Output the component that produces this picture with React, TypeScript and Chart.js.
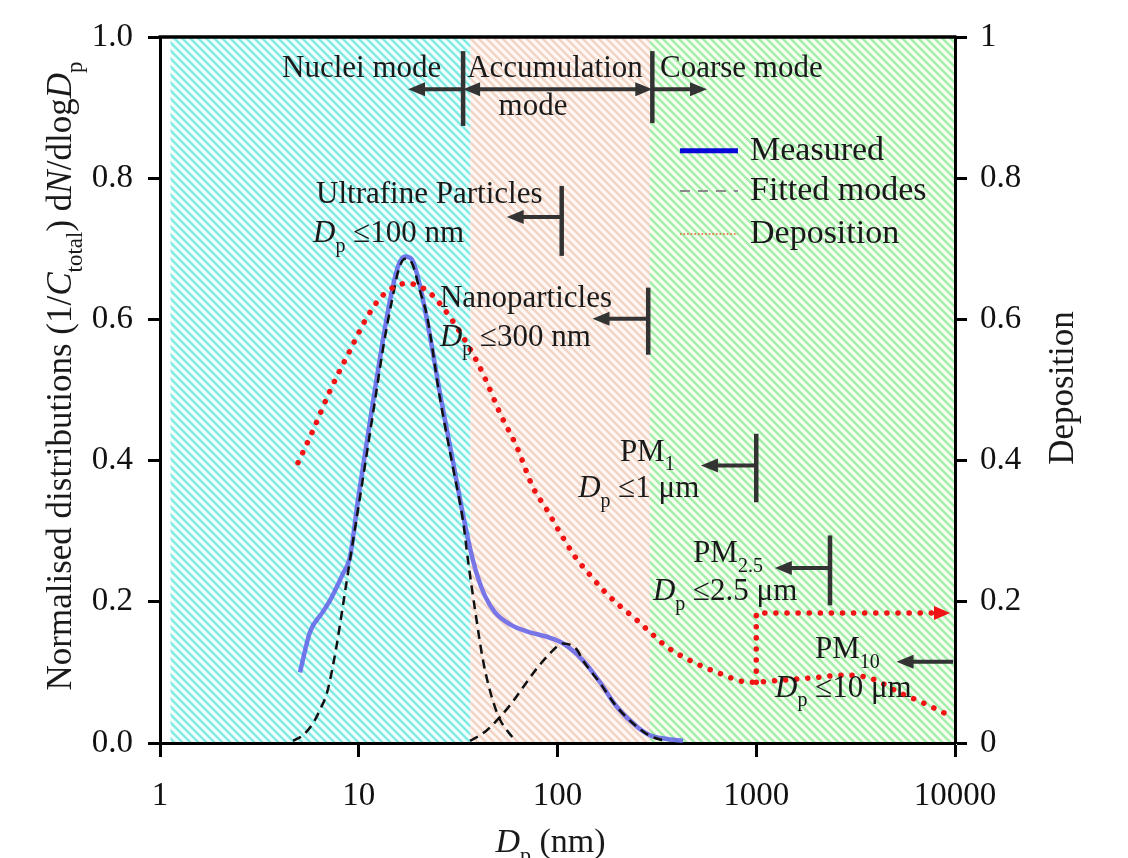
import React, { useEffect, useRef } from "react";
import { Chart, registerables } from "chart.js";

Chart.register(...registerables);

const SERIF = '"Liberation Serif", "Times New Roman", Times, serif';

// ---- ticks ----
const xTickValues = [1, 10, 100, 1000, 10000];
const yTickValues = [0, 0.2, 0.4, 0.6, 0.8, 1];

// ---- Measured distribution (Dp in nm, normalised dN/dlogDp) ----
const measuredDp = [5.06, 5.68, 6.53, 7.17, 8.33, 9.03, 9.91, 10.88, 11.93, 13.09, 14.36, 15.76, 17.09, 18.5, 20.3, 22.8, 25.6, 29.5, 33.1, 36.3, 39.4, 43.2, 48.5, 57.7, 70.2, 91.7, 106.6, 134.3, 163.6, 199, 251, 292, 348, 428];
const measuredN = [0.100, 0.157, 0.184, 0.202, 0.240, 0.263, 0.344, 0.419, 0.492, 0.563, 0.627, 0.675, 0.689, 0.685, 0.648, 0.577, 0.496, 0.405, 0.330, 0.276, 0.238, 0.208, 0.185, 0.168, 0.158, 0.149, 0.141, 0.117, 0.086, 0.051, 0.023, 0.011, 0.006, 0.003];

// ---- Fitted nuclei mode ----
const nucleiDp = [4.67, 5.24, 5.89, 6.38, 6.92, 7.34, 7.77, 8.33, 9.03, 9.91, 10.88, 12.07, 13.4, 14.7, 15.94, 17.09, 18.5, 20.3, 22.05, 25.6, 29.8, 33.45, 35.45, 38.5, 42.2, 46.8, 51.4, 56.4, 61.1];
const nucleiN = [0.003, 0.011, 0.028, 0.047, 0.071, 0.103, 0.141, 0.195, 0.259, 0.330, 0.403, 0.485, 0.567, 0.627, 0.672, 0.686, 0.680, 0.641, 0.605, 0.489, 0.390, 0.315, 0.259, 0.188, 0.117, 0.064, 0.033, 0.016, 0.004];

// ---- Fitted accumulation mode ----
const accumDp = [36.3, 43.2, 51.4, 59.0, 67.1, 78.9, 91.7, 106.6, 125.4, 134.3, 163.6, 199, 251, 292, 348];
const accumN = [0.003, 0.016, 0.037, 0.057, 0.079, 0.106, 0.127, 0.141, 0.132, 0.117, 0.085, 0.051, 0.023, 0.010, 0.003];

// ---- Deposition (right axis) ----
const depositionDp = [4.95, 5.89, 7.17, 9.03, 11.0, 13.2, 17.5, 22.0, 26.5, 35.0, 42.2, 51.4, 62.5, 75.3, 88.6, 103, 122.5, 145.7, 173.4, 206.3, 251, 292, 355.6, 464, 635, 930, 1363, 2022, 2733, 3735, 5288, 6902, 8908];
const depositionValue = [0.397, 0.443, 0.499, 0.556, 0.603, 0.634, 0.651, 0.641, 0.617, 0.566, 0.523, 0.467, 0.419, 0.362, 0.330, 0.298, 0.264, 0.238, 0.214, 0.194, 0.174, 0.157, 0.136, 0.117, 0.100, 0.086, 0.089, 0.093, 0.096, 0.092, 0.071, 0.057, 0.042];
const depositionStepDp = [1000, 1000, 9000];
const depositionStepValue = [0.086, 0.184, 0.184];
const depositionArrowTip = { dp: 9440, value: 0.184 };

// ---- background regions (nuclei / accumulation / coarse) ----
const regionEdges = [1.13, 36.5, 292, 10000];
const regionColors = [
  { bg: "#f1fdfc", stripe: "#80ebe3" },
  { bg: "#fef8f5", stripe: "#f2d3c5" },
  { bg: "#f8fdf1", stripe: "#a3efa9" },
];

// ---- annotation labels ----
type Run = { t: string; it?: boolean; sub?: boolean };
const Dp: Run[] = [{ t: "D", it: true }, { t: "p", sub: true }];
const labelTexts: { dp: number; v: number; align: "left" | "center"; runs: Run[] }[] = [
  { dp: 4.11, v: 0.943, align: "left", runs: [{ t: "Nuclei mode" }] },
  { dp: 97.1, v: 0.943, align: "center", runs: [{ t: "Accumulation" }] },
  { dp: 75.3, v: 0.89, align: "center", runs: [{ t: "mode" }] },
  { dp: 328, v: 0.943, align: "left", runs: [{ t: "Coarse mode" }] },
  { dp: 6.1, v: 0.765, align: "left", runs: [{ t: "Ultrafine Particles" }] },
  { dp: 5.89, v: 0.709, align: "left", runs: [...Dp, { t: " \u2264100 nm" }] },
  { dp: 25.6, v: 0.617, align: "left", runs: [{ t: "Nanoparticles" }] },
  { dp: 25.6, v: 0.563, align: "left", runs: [...Dp, { t: " \u2264300 nm" }] },
  { dp: 206, v: 0.4, align: "left", runs: [{ t: "PM" }, { t: "1", sub: true }] },
  { dp: 127, v: 0.348, align: "left", runs: [...Dp, { t: " \u22641 \u03bcm" }] },
  { dp: 481, v: 0.256, align: "left", runs: [{ t: "PM" }, { t: "2.5", sub: true }] },
  { dp: 302, v: 0.202, align: "left", runs: [...Dp, { t: " \u22642.5 \u03bcm" }] },
  { dp: 1975, v: 0.12, align: "left", runs: [{ t: "PM" }, { t: "10", sub: true }] },
  { dp: 1243, v: 0.065, align: "left", runs: [...Dp, { t: " \u226410 \u03bcm" }] },
];
const boundaryBars = [
  { dp: 33.5, v1: 0.874, v2: 0.98 },
  { dp: 300, v1: 0.878, v2: 0.98 },
  { dp: 105, v1: 0.69, v2: 0.789 },
  { dp: 286, v1: 0.55, v2: 0.645 },
  { dp: 1000, v1: 0.341, v2: 0.438 },
  { dp: 2350, v1: 0.195, v2: 0.294 },
];
const arrowSpecs = [
  { from: 33.5, to: 17.7, v: 0.926, both: false },
  { from: 33.5, to: 300, v: 0.926, both: true },
  { from: 300, to: 565, v: 0.926, both: false },
  { from: 105, to: 55.5, v: 0.745, both: false },
  { from: 286, to: 150, v: 0.601, both: false },
  { from: 1000, to: 527, v: 0.393, both: false },
  { from: 2350, to: 1240, v: 0.248, both: false },
  { from: 9800, to: 5080, v: 0.115, both: false },
];
const legendLabels = ["Measured", "Fitted modes", "Deposition"];
const legendRowsV = [0.839, 0.782, 0.721];
const legendSpan = { from: 413, to: 809, text: 930 };

const toPoints = (xs: number[], ys: number[]) => xs.map((x, i) => ({ x, y: ys[i] }));

function runFont(r: Run, size: number) {
  const s = r.sub ? Math.round(size * 0.66) : size;
  return `${r.it ? "italic " : ""}${s}px ${SERIF}`;
}

function drawRich(ctx: CanvasRenderingContext2D, runs: Run[], x: number, y: number, size: number, align: string, color = "#1a1a1a") {
  ctx.save();
  ctx.fillStyle = color;
  ctx.textAlign = "left";
  ctx.textBaseline = "alphabetic";
  let w = 0;
  const ws = runs.map((r) => {
    ctx.font = runFont(r, size);
    const m = ctx.measureText(r.t).width;
    w += m;
    return m;
  });
  let cx = align === "left" ? x : align === "center" ? x - w / 2 : x - w;
  runs.forEach((r, i) => {
    ctx.font = runFont(r, size);
    ctx.fillText(r.t, cx, y + (r.sub ? size * 0.3 : 0));
    cx += ws[i];
  });
  ctx.restore();
}

function arrowHead(ctx: CanvasRenderingContext2D, tx: number, ty: number, dir: number, len: number, half: number) {
  ctx.beginPath();
  ctx.moveTo(tx, ty);
  ctx.lineTo(tx - dir * len, ty - half);
  ctx.lineTo(tx - dir * len, ty + half);
  ctx.closePath();
  ctx.fill();
}

function makePattern(ctx: CanvasRenderingContext2D, bg: string, stripe: string) {
  const c = document.createElement("canvas");
  c.width = 8;
  c.height = 8;
  const g = c.getContext("2d")!;
  g.fillStyle = bg;
  g.fillRect(0, 0, 8, 8);
  g.strokeStyle = stripe;
  g.lineWidth = 2.4;
  g.beginPath();
  for (const k of [-8, 0, 8]) {
    g.moveTo(-2, -2 + k);
    g.lineTo(10, 10 + k);
  }
  g.stroke();
  return ctx.createPattern(c, "repeat")!;
}

const overlayPlugin = {
  id: "overlay",
  beforeDraw(chart: any) {
    const { ctx, chartArea } = chart;
    const x = chart.scales.x;
    if (!chart.$patterns) chart.$patterns = regionColors.map((c) => makePattern(ctx, c.bg, c.stripe));
    ctx.save();
    for (let i = 0; i < regionEdges.length - 1; i++) {
      const x1 = x.getPixelForValue(regionEdges[i]);
      const x2 = x.getPixelForValue(regionEdges[i + 1]);
      ctx.fillStyle = chart.$patterns[i];
      ctx.fillRect(x1, chartArea.top, x2 - x1, chartArea.bottom - chartArea.top);
    }
    ctx.restore();
  },
  afterDatasetsDraw(chart: any) {
    const { ctx, chartArea } = chart;
    const x = chart.scales.x;
    const y = chart.scales.y;
    const y2 = chart.scales.y2;
    ctx.save();
    // top frame line
    ctx.strokeStyle = "#000";
    ctx.lineWidth = 3.5;
    ctx.beginPath();
    ctx.moveTo(chartArea.left - 1.5, chartArea.top);
    ctx.lineTo(chartArea.right + 1.5, chartArea.top);
    ctx.stroke();

    // red arrow head of deposition step
    ctx.fillStyle = "#f01414";
    arrowHead(ctx, x.getPixelForValue(depositionArrowTip.dp), y2.getPixelForValue(depositionArrowTip.value), 1, 16, 7);

    // bars
    ctx.strokeStyle = "#333";
    ctx.fillStyle = "#333";
    ctx.lineWidth = 4.5;
    for (const b of boundaryBars) {
      const px = x.getPixelForValue(b.dp);
      ctx.beginPath();
      ctx.moveTo(px, y.getPixelForValue(b.v1));
      ctx.lineTo(px, y.getPixelForValue(b.v2));
      ctx.stroke();
    }
    // arrows
    ctx.lineWidth = 4;
    const L = 17, H = 7;
    for (const a of arrowSpecs) {
      const p1 = x.getPixelForValue(a.from);
      const p2 = x.getPixelForValue(a.to);
      const py = y.getPixelForValue(a.v);
      const dir = Math.sign(p2 - p1);
      ctx.beginPath();
      ctx.moveTo(a.both ? p1 + dir * (L - 2) : p1, py);
      ctx.lineTo(p2 - dir * (L - 2), py);
      ctx.stroke();
      arrowHead(ctx, p2, py, dir, L, H);
      if (a.both) arrowHead(ctx, p1, py, -dir, L, H);
    }
    ctx.restore();

    // labels
    for (const t of labelTexts) {
      drawRich(ctx, t.runs, x.getPixelForValue(t.dp), y.getPixelForValue(t.v), 31, t.align);
    }

    // legend
    const lx1 = x.getPixelForValue(legendSpan.from);
    const lx2 = x.getPixelForValue(legendSpan.to);
    const tx = x.getPixelForValue(legendSpan.text);
    legendLabels.forEach((lab, i) => {
      const ly = y.getPixelForValue(legendRowsV[i]);
      ctx.save();
      ctx.beginPath();
      if (i === 0) {
        ctx.strokeStyle = "#0a0ad8";
        ctx.lineWidth = 5;
      } else if (i === 1) {
        ctx.strokeStyle = "#8a8a8a";
        ctx.lineWidth = 2;
        ctx.setLineDash([10, 8]);
      } else {
        ctx.strokeStyle = "#e8602a";
        ctx.lineWidth = 1.6;
        ctx.setLineDash([1.6, 2]);
      }
      ctx.moveTo(lx1, ly);
      ctx.lineTo(lx2, ly);
      ctx.stroke();
      ctx.restore();
      drawRich(ctx, [{ t: lab }], tx, ly + 9, 34, "left");
    });
  },
  afterDraw(chart: any) {
    const { ctx, chartArea } = chart;
    const midY = (chartArea.top + chartArea.bottom) / 2;
    // left axis title
    ctx.save();
    ctx.translate(chartArea.left - 89, midY - 14);
    ctx.rotate(-Math.PI / 2);
    drawRich(ctx, [
      { t: "Normalised distributions (1/" },
      { t: "C", it: true },
      { t: "total", sub: true },
      { t: ") d" },
      { t: "N", it: true },
      { t: "/dlog" },
      { t: "D", it: true },
      { t: "p", sub: true },
    ], 0, 0, 35, "center");
    ctx.restore();
    // right axis title
    ctx.save();
    ctx.translate(chartArea.right + 118, midY - 2);
    ctx.rotate(-Math.PI / 2);
    drawRich(ctx, [{ t: "Deposition" }], 0, 0, 35, "center");
    ctx.restore();
    // x axis title
    drawRich(ctx, [{ t: "D", it: true }, { t: "p", sub: true }, { t: " (nm)" }], (chartArea.left + chartArea.right) / 2 - 7, chartArea.bottom + 109, 34, "center");
  },
};

export default function App() {
  const ref = useRef<HTMLCanvasElement>(null);
  useEffect(() => {
    const canvas = ref.current!;
    const axisGrid = { drawOnChartArea: false, drawTicks: true, tickLength: 12, tickWidth: 3, tickColor: "#000" };
    const axisBorder = { display: true, width: 3, color: "#000" };
    const tickFont = { family: SERIF, size: 33 };
    const chart = new Chart(canvas, {
      type: "line",
      data: {
        datasets: [
          {
            label: "Deposition",
            data: toPoints(depositionDp, depositionValue),
            yAxisID: "y2",
            borderColor: "#f01414",
            borderWidth: 5.5,
            borderDash: [0.1, 11],
            borderCapStyle: "round",
            pointRadius: 0,
            cubicInterpolationMode: "monotone",
            fill: false,
            order: 0,
          },
          {
            label: "Deposition step",
            data: toPoints(depositionStepDp, depositionStepValue),
            yAxisID: "y2",
            borderColor: "#f01414",
            borderWidth: 5.5,
            borderDash: [0.1, 11],
            borderCapStyle: "round",
            pointRadius: 0,
            tension: 0,
            fill: false,
            order: 0,
          },
          {
            label: "Nuclei mode",
            data: toPoints(nucleiDp, nucleiN),
            yAxisID: "y",
            borderColor: "#111",
            borderWidth: 2.5,
            borderDash: [9, 6],
            pointRadius: 0,
            cubicInterpolationMode: "monotone",
            fill: false,
            order: 1,
          },
          {
            label: "Accumulation mode",
            data: toPoints(accumDp, accumN),
            yAxisID: "y",
            borderColor: "#111",
            borderWidth: 2.5,
            borderDash: [9, 6],
            pointRadius: 0,
            cubicInterpolationMode: "monotone",
            fill: false,
            order: 1,
          },
          {
            label: "Measured",
            data: toPoints(measuredDp, measuredN),
            yAxisID: "y",
            borderColor: "rgba(92, 92, 232, 0.82)",
            borderWidth: 4.5,
            pointRadius: 0,
            cubicInterpolationMode: "monotone",
            fill: false,
            order: 2,
          },
        ],
      },
      options: {
        responsive: false,
        devicePixelRatio: 1,
        animation: false,
        events: [],
        layout: { padding: { top: 37, left: 0, right: 0, bottom: 0 } },
        plugins: { legend: { display: false }, tooltip: { enabled: false }, title: { display: false } },
        scales: {
          x: {
            type: "logarithmic",
            position: "bottom",
            min: 1,
            max: 10000,
            afterBuildTicks: (s: any) => {
              s.ticks = xTickValues.map((v) => ({ value: v }));
            },
            afterFit: (s: any) => {
              s.height = 115;
            },
            ticks: {
              autoSkip: false,
              maxRotation: 0,
              padding: 20,
              color: "#111",
              font: tickFont,
              callback: (v: any) => String(v),
            },
            grid: { ...axisGrid, tickLength: 14 },
            border: axisBorder,
          },
          y: {
            type: "linear",
            position: "left",
            min: 0,
            max: 1,
            afterBuildTicks: (s: any) => {
              s.ticks = yTickValues.map((v) => ({ value: v }));
            },
            afterFit: (s: any) => {
              s.width = 160;
            },
            ticks: { padding: 15, color: "#111", font: tickFont, callback: (v: any) => Number(v).toFixed(1) },
            grid: axisGrid,
            border: axisBorder,
          },
          y2: {
            type: "linear",
            position: "right",
            min: 0,
            max: 1,
            afterBuildTicks: (s: any) => {
              s.ticks = yTickValues.map((v) => ({ value: v }));
            },
            afterFit: (s: any) => {
              s.width = 173;
            },
            ticks: {
              padding: 13,
              color: "#111",
              font: tickFont,
              callback: (v: any) => (v === 0 ? "0" : v === 1 ? "1" : Number(v).toFixed(1)),
            },
            grid: axisGrid,
            border: axisBorder,
          },
        },
      },
      plugins: [overlayPlugin],
    } as any);
    return () => chart.destroy();
  }, []);
  return (
    <canvas
      ref={ref}
      width={1128}
      height={858}
      style={{ position: "fixed", left: 0, top: 0, width: 1128, height: 858, display: "block" }}
    />
  );
}
